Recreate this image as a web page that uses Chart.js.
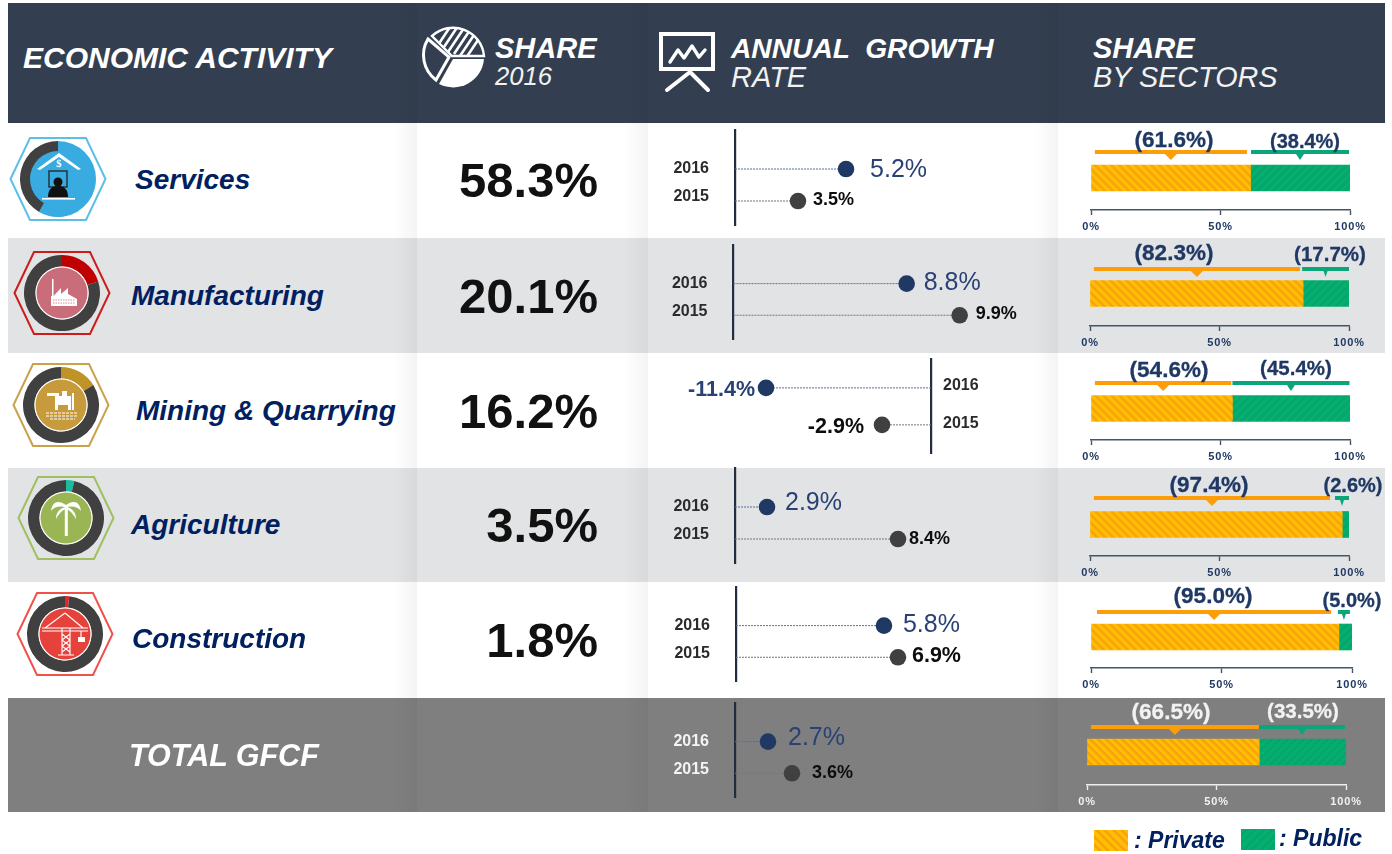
<!DOCTYPE html>
<html><head><meta charset="utf-8">
<script src="https://cdn.jsdelivr.net/npm/chart.js@4/dist/chart.umd.min.js"></script>
<style>
html,body{margin:0;padding:0;background:#fff;}
#page{position:relative;width:1392px;height:854px;overflow:hidden;font-family:"Liberation Sans",Arial,sans-serif;filter:blur(.35px);}
.t{position:absolute;white-space:pre;line-height:1;transform:translateY(-50%);}
canvas{position:absolute;display:block;}
svg{position:absolute;overflow:visible;}
.shade{position:absolute;width:24px;top:123px;height:689px;background:linear-gradient(to right,rgba(0,0,0,0),rgba(0,0,0,.045));}
.swP{background:repeating-linear-gradient(45deg,#ffc000 0 3px,#f9a30e 3px 6px);}
.swG{background:repeating-linear-gradient(-45deg,#00b26f 0 3px,#0aa56e 3px 6px);}
</style></head><body>
<div id="page"></div>
<script>
// ---------- DATA ----------
const categories = ["Services","Manufacturing","Mining & Quarrying","Agriculture","Construction"];
const totalLabel = "TOTAL GFCF";
const share2016 = [58.3,20.1,16.2,3.5,1.8];
const years = [2016,2015];
const growth2016 = [5.2,8.8,-11.4,2.9,5.8,2.7];
const growth2015 = [3.5,9.9,-2.9,8.4,6.9,3.6];
const privateShare = [61.6,82.3,54.6,97.4,95.0,66.5];
const publicShare = [38.4,17.7,45.4,2.6,5.0,33.5];
const shareTicks = [0,50,100];

// ---------- LAYOUT / STYLE (not data) ----------
Chart.defaults.font.family = '"Liberation Sans",Arial,sans-serif';
const NAVY='#1f3864', DARK='#404040', NAVY2='#2a4175';
const rowTops=[123,238,353,468,583,698];
const rowBg=['#fff','#e2e3e5','#fff','#e2e3e5','#fff','#7f7f7f'];
const rowBottoms=[238,353,468,582,698,812];
const nameX=[135,131,136,131,132], nameY=[180,296,411,525,639];
const shareY=[180,296,411,525,640];
const page=document.getElementById('page');
function div(css,html,cls){const d=document.createElement('div');d.style.cssText=css;if(cls)d.className=cls;if(html!=null)d.textContent=html;page.appendChild(d);return d;}
function text(x,y,s,font,color,right){
  return div(`${right?'right':'left'}:${right?1392-x:x}px;top:${y}px;font:${font};color:${color};`,s,'t');
}
// backgrounds
div('position:absolute;left:8px;top:3px;width:1377px;height:120px;background:#333f50;');
rowTops.forEach((t,i)=>{div(`position:absolute;left:8px;top:${t}px;width:1377px;height:${rowBottoms[i]-t}px;background:${rowBg[i]};`)});
[393,624,1034].forEach(x=>div(`left:${x}px;`,null,'shade'));
[393,624,1034].forEach(x=>div(`position:absolute;left:${x}px;top:3px;width:24px;height:120px;background:linear-gradient(to right,rgba(0,0,0,0),rgba(0,0,0,.05));`));

// header text
const W='#fff';
text(23,58,'ECONOMIC ACTIVITY','italic bold 30px "Liberation Sans"',W);
text(495,48,'SHARE','italic bold 29px "Liberation Sans"',W);
text(495,76,'2016','italic 25.6px "Liberation Sans"','#f2f2f2');
text(731,48,'ANNUAL  GROWTH','italic bold 28.2px "Liberation Sans"',W);
text(731,77,'RATE','italic 29px "Liberation Sans"','#f2f2f2');
text(1093,48,'SHARE','italic bold 29px "Liberation Sans"',W);
text(1093,77,'BY SECTORS','italic 28.8px "Liberation Sans"','#f2f2f2');

// header icons
page.insertAdjacentHTML('beforeend',`
<svg style="left:0;top:0" width="1392" height="130">
 <defs><clipPath id="wTop"><path d="M432,36 A31,31 0 0 1 484,56 L452,56 Z"/></clipPath></defs>
 <path d="M432,36 A31,31 0 0 1 484,56 L452,56 Z" fill="none" stroke="#fff" stroke-width="2.4"/>
 <g clip-path="url(#wTop)" stroke="#fff" stroke-width="2.6">
  <path d="M436,48 L452,24 M442,50 L458,26 M448,52 L464,28 M454,54 L470,30 M460,56 L476,32 M466,58 L482,34"/>
 </g>
 <path d="M453,59 H484 A31,31 0 0 1 439,84 Z" fill="#fff"/>
 <path d="M428,39 L449,57 L436,80 A31,31 0 0 1 428,39 Z" fill="none" stroke="#fff" stroke-width="3"/>
 <rect x="661" y="34" width="52" height="35" fill="none" stroke="#fff" stroke-width="4"/>
 <path d="M670,62 L678,50 L684,58 L692,46 L699,57 L705,50" fill="none" stroke="#fff" stroke-width="3.4" stroke-linejoin="round" stroke-linecap="round"/>
 <path d="M690,72 L667,90 M690,72 L708,90" stroke="#fff" stroke-width="4" stroke-linecap="round"/>
</svg>`);

// category names & shares
categories.forEach((c,i)=>text(nameX[i],nameY[i],c,'italic bold 28px "Liberation Sans"','#002060'));
text(129,755,totalLabel,'italic bold 30.5px "Liberation Sans"','#fff');
share2016.forEach((s,i)=>text(598,shareY[i],s.toFixed(1)+'%','bold 49px "Liberation Sans"','#111',true));

// ---------- ICONS ----------
const iconC=[[58,179],[62,293],[61,405],[66,518],[65,634]];
const hexCol=['#5bbfe8','#cc1c1c','#c9a24a','#a0bf60','#f0524a'];
const ringCol=['#38ace0','#c00000','#bf9328','#1abc9c','#e8262a'];
const innerCol=['#38ace0','#c96d7a','#c79a3c','#9ab654','#e5423c'];
const glyphs=[
 `<path d="M-21,-10 L1,-26 L23,-10 L20,-9 L1,-22 L-18,-9Z" fill="#fff"/>
  <text x="1" y="-12" font-size="11" font-weight="bold" font-family="Liberation Serif" text-anchor="middle" fill="#fff">$</text>
  <rect x="-9" y="-8" width="18" height="16" fill="none" stroke="#222" stroke-width="1.3"/>
  <circle cx="0" cy="3" r="4.5" fill="#111"/><path d="M-10,18 C-10,9 -5,7 0,7 C5,7 10,9 10,18Z" fill="#111"/>
  <rect x="-16" y="19" width="33" height="1.6" fill="#fff"/>`,
 `<path d="M-11,13 V3 H-10 V-14 H-8.5 V3 L-1,-5 V1 L6,-5 V1 L15,6 V13Z" fill="#fff"/>
  <path d="M-9,7 H13 M-9,10 H13" stroke="#c96d7a" stroke-width=".8" stroke-dasharray="1.5 1"/>`,
 `<path d="M-14,-12 H-2 V-9 H-14Z M-6,-9 H10 V5 H7 V0 H-3 V5 H-6Z M1,-14 h5 v5 h-5Z M11,-12 h2 V5 h-2Z" fill="#fff"/>
  <path d="M-15,8 H17 M-15,11 H17 M-11,14 H14" stroke="#fff" stroke-width="1.2" stroke-dasharray="3 1"/>`,
 `<rect x="-1.2" y="-12" width="3" height="30" fill="#fff"/>
  <path d="M0,-13 C-8,-19 -14,-16 -15,-7 C-11,-12 -6,-12 0,-11 C-6,-10 -10,-6 -10,1 C-6,-6 -3,-8 0,-9 C3,-8 6,-6 10,1 C10,-6 6,-10 0,-11 C6,-12 11,-12 15,-7 C14,-16 8,-19 0,-13Z" fill="#fff"/>`,
 `<path d="M-23,-6 H23 M-23,-3 H23 M0,-21 L-20,-6 M0,-21 L18,-6 M-3,-6 V21 M5,-6 V21 M-3,0 L5,6 M5,0 L-3,6 M-3,6 L5,12 M5,6 L-3,12 M-3,12 L5,18 M5,12 L-3,18 M-7,21 H9 M16,-3 V4" stroke="#fff" stroke-width="1.1" fill="none"/><rect x="13" y="3" width="7" height="5" fill="#fff"/>`
];
function hexPts(cx,cy){return [[-47.5,0],[-28,-41],[28,-41],[47.5,0],[28,41],[-28,41]].map(p=>(cx+p[0])+','+(cy+p[1])).join(' ');}
iconC.forEach((c,i)=>{
  page.insertAdjacentHTML('beforeend',`<svg style="left:0;top:0" width="1" height="1"><polygon points="${hexPts(c[0],c[1])}" fill="none" stroke="${hexCol[i]}" stroke-width="2"/></svg>`);
  const cv=document.createElement('canvas');cv.width=76;cv.height=76;cv.style.left=(c[0]-38)+'px';cv.style.top=(c[1]-38)+'px';page.appendChild(cv);
  new Chart(cv,{type:'doughnut',data:{labels:[categories[i],'Other'],datasets:[{data:[share2016[i],100-share2016[i]],backgroundColor:[ringCol[i],DARK],borderWidth:0}]},
    options:{responsive:false,animation:false,events:[],cutout:'70%',plugins:{legend:{display:false},tooltip:{enabled:false}}}});
  const inner = i===0 ? `<circle r="28" fill="${innerCol[i]}"/>` : `<circle r="26.5" fill="#fff"/><circle r="25.5" fill="${innerCol[i]}"/>`;
  page.insertAdjacentHTML('beforeend',`<svg style="left:${c[0]}px;top:${c[1]}px" width="1" height="1">${inner}${glyphs[i]}</svg>`);
});

// ---------- LOLLIPOP CHARTS ----------
// Per-row axis geometry. The reference does not draw its dots to one common scale,
// so each year has its own axis limit in each row.
const stemAxisX=[735,733.5,931,735,736,735];
const stemTop=[130,245,359,468,587,703], stemH=[95,94,94,95,94,94];
const axisLimit2016=[14.05,15.22,20.73,27.19,11.76,24.55];
const axisLimit2015=[16.67,13.11,17.76,15.46,12.78,18.95];
const yMax=[2017.22,2017.22,2016.78,2017.22,2017.22,2017.22], yMin=[2014.25,2014.25,2014.24,2014.25,2014.25,2014.25];
const yTick2015=[2015.125,2015.125,2015.03,2015.125,2015.125,2015.125], yTick2016=[2016,2016,2016.05,2016,2016,2016];
const lab16={dx:[24,17,-11,18,19,20],dy:[1,-1,2,-4,-1,-4]};
const lab15={dx:[15,16,-18,11,14,20],dy:[-1,-1,2,0,-1,0],font:['bold 18px','bold 18px','bold 21.5px','bold 18px','bold 21.5px','bold 18px']};
const font16=['25px','25px','bold 21.5px','25px','25px','25px'];
const yearCol=['#2b2b2b','#2b2b2b','#2b2b2b','#2b2b2b','#2b2b2b','#f4f4f4'];
const FF=' "Liberation Sans"', VPAD=10;
growth2016.forEach((g16,i)=>{
  const neg=g16<0, g15=growth2015[i], ax=stemAxisX[i];
  const left=neg?ax-310:650, leftAxisW=ax-650, rightAxisW=70;
  const width=neg?310+rightAxisW:leftAxisW+310;
  const cv=document.createElement('canvas');cv.width=width;cv.height=stemH[i]+2*VPAD;cv.style.left=left+'px';cv.style.top=(stemTop[i]-VPAD)+'px';page.appendChild(cv);
  const xAxis=(lim)=>({type:'linear',display:false,min:neg?-lim:0,max:neg?0:lim});
  const valueLabels={id:'valueLabels',afterDatasetsDraw(ch){
    const c=ch.ctx;c.save();c.textBaseline='middle';c.textAlign=neg?'right':'left';
    [[0,g16,ch.scales.xA,font16[i]+FF,NAVY2,lab16,years[0]],[1,g15,ch.scales.xB,lab15.font[i]+FF,'#0d0d0d',lab15,years[1]]].forEach(a=>{
      const px=a[2].getPixelForValue(a[1]),py=ch.scales.y.getPixelForValue(a[6]);
      c.font=a[3];c.fillStyle=a[4];
      c.fillText(a[1].toFixed(1)+'%',px+a[5].dx[i],py+a[5].dy[i]);
    });c.restore();}};
  new Chart(cv,{type:'scatter',plugins:[valueLabels],data:{datasets:[
    {label:'2016',xAxisID:'xA',yAxisID:'y',showLine:true,clip:false,data:[{x:0,y:years[0]},{x:g16,y:years[0]}],borderColor:'#5a6f9c',borderWidth:1,borderDash:[2,1],pointRadius:[0,8.3],pointHoverRadius:0,pointBackgroundColor:NAVY,pointBorderWidth:0},
    {label:'2015',xAxisID:'xB',yAxisID:'y',showLine:true,clip:false,data:[{x:0,y:years[1]},{x:g15,y:years[1]}],borderColor:'#777',borderWidth:1,borderDash:[2,1],pointRadius:[0,8.3],pointHoverRadius:0,pointBackgroundColor:DARK,pointBorderWidth:0}
  ]},options:{responsive:false,animation:false,events:[],
    layout:{padding:neg?{left:10,right:0,top:VPAD,bottom:VPAD}:{left:0,right:10,top:VPAD,bottom:VPAD}},
    plugins:{legend:{display:false},tooltip:{enabled:false}},
    scales:{
      xA:xAxis(axisLimit2016[i]),xB:xAxis(axisLimit2015[i]),
      y:{type:'linear',position:neg?'right':'left',min:yMin[i],max:yMax[i],
        grid:{display:false,drawTicks:false},border:{display:true,color:'#222e3f',width:2.2},
        afterBuildTicks:s=>{s.ticks=[{value:yTick2016[i]},{value:yTick2015[i]}];},
        afterFit:s=>{s.width=neg?rightAxisW:leftAxisW;s.paddingTop=0;s.paddingBottom=0;},
        ticks:{autoSkip:false,padding:neg?12:26,color:yearCol[i],font:{size:16,weight:'bold'},callback:v=>String(Math.floor(v))}
      }
    }}});
});

// ---------- SHARE BARS ----------
const barX=[1091,1090,1091,1090,1091,1087], barW=[259,259,259,259,261,259];
const axisY=[210,326,440,556,668,785], barPadTop=[23,23,24,25,23,21];
const brkTop=[150,267,381,496,610,725];
const brkPrivate=[[1.5,60.2],[1.5,81.1],[1.5,54.2],[1.5,92.7],[2.3,92],[1.5,66.4]];
const brkPublic=[[61.8,99.6],[81.9,100],[54.6,99.8],[94.6,100],[94.6,99.2],[66.4,99.6]];
const labPrivate={x:[1174,1174,1169,1209,1213,1171],y:[141,254,371,486,597,713]};
const labPublic={x:[1305,1330,1296,1353,1352,1303],y:[142,255,369,486,601,712],size:[20,20.5,20.5,20,20,20.5]};
const ORANGE='#fd9d0a', GREEN='#0aa57a';
function stripes(base,stripe,dir){
  const n=8,c=document.createElement('canvas');c.width=c.height=n;const x=c.getContext('2d');
  x.fillStyle=base;x.fillRect(0,0,n,n);x.strokeStyle=stripe;x.lineWidth=2.8;x.beginPath();
  for(let k=-n;k<=n;k+=n){
    if(dir>0){x.moveTo(k-1,-1);x.lineTo(k+n+1,n+1);}
    else{x.moveTo(k+n+1,-1);x.lineTo(k-1,n+1);}
  }
  x.stroke();return x.createPattern(c,'repeat');
}
const patP=stripes('#ffc000','#f9a30e',1), patG=stripes('#00b26f','#0ba36c',-1);
privateShare.forEach((p,i)=>{
  const top=rowTops[i], padL=30,padR=44, ay=axisY[i];
  const cv=document.createElement('canvas');cv.width=barW[i]+padL+padR;cv.height=ay-top+30;
  cv.style.left=(barX[i]-padL)+'px';cv.style.top=top+'px';page.appendChild(cv);
  const isTotal=i===5, axisCol=isTotal?'#eeeeee':'#44546a', tickCol=isTotal?'#f2f2f2':NAVY, labCol=isTotal?'#f2f2f2':NAVY;
  const brackets={id:'brackets',
    beforeDraw(ch){ch.ctx.letterSpacing='0.9px';},
    afterDraw(ch){
      const c=ch.ctx,x=ch.scales.x;c.save();c.letterSpacing='0px';
      const bk=(r,col,y0,half)=>{
        const a=x.getPixelForValue(r[0]),b=x.getPixelForValue(r[1]),m=(a+b)/2;
        c.fillStyle=col;c.fillRect(a,y0,b-a,4);
        c.beginPath();c.moveTo(m-half,y0+4);c.lineTo(m+half,y0+4);c.lineTo(m,y0+10);c.closePath();c.fill();
      };
      const y0=brkTop[i]-top;
      bk(brkPrivate[i],ORANGE,y0,6);
      bk(brkPublic[i],GREEN,y0,publicShare[i]<20?2:4);
      c.textAlign='center';c.textBaseline='middle';c.fillStyle=labCol;c.strokeStyle=labCol;c.lineWidth=.3;
      const ox=barX[i]-padL;
      const a='('+p.toFixed(1)+'%)', b='('+publicShare[i].toFixed(1)+'%)';
      c.font='bold 22.5px "Liberation Sans"';c.fillText(a,labPrivate.x[i]-ox,labPrivate.y[i]-top);c.strokeText(a,labPrivate.x[i]-ox,labPrivate.y[i]-top);
      c.font='bold '+labPublic.size[i]+'px "Liberation Sans"';c.fillText(b,labPublic.x[i]-ox,labPublic.y[i]-top);c.strokeText(b,labPublic.x[i]-ox,labPublic.y[i]-top);
      c.restore();
    }};
  new Chart(cv,{type:'bar',plugins:[brackets],data:{labels:[i<5?categories[i]:totalLabel],datasets:[
    {label:'Private',data:[p],backgroundColor:patP,barThickness:26,borderSkipped:false},
    {label:'Public',data:[publicShare[i]],backgroundColor:patG,barThickness:26,borderSkipped:false}
  ]},options:{indexAxis:'y',responsive:false,animation:false,events:[],
    layout:{padding:{left:padL,right:padR,top:barPadTop[i],bottom:0}},
    plugins:{legend:{display:false},tooltip:{enabled:false}},
    scales:{
      y:{display:false,stacked:true},
      x:{stacked:true,min:0,max:100,position:'bottom',
        afterBuildTicks:s=>{s.ticks=shareTicks.map(v=>({value:v}));},
        afterFit:s=>{s.height=30;s.paddingLeft=0;s.paddingRight=0;},
        grid:{drawOnChartArea:false,drawTicks:true,tickLength:5,tickWidth:1.4,tickColor:axisCol},
        border:{display:true,color:axisCol,width:1.4},
        ticks:{autoSkip:false,maxRotation:0,padding:5,color:tickCol,font:{size:11,weight:'bold'},callback:v=>v+'%'}
      }
    }}});
});

// ---------- LEGEND ----------
div('position:absolute;left:1094px;top:830px;width:34px;height:21px;',null,'swP');
text(1134,840,': Private','italic bold 23px "Liberation Sans"','#002060');
div('position:absolute;left:1241px;top:829px;width:34px;height:21px;',null,'swG');
text(1279,838,': Public','italic bold 23px "Liberation Sans"','#002060');
</script>
</body></html>
